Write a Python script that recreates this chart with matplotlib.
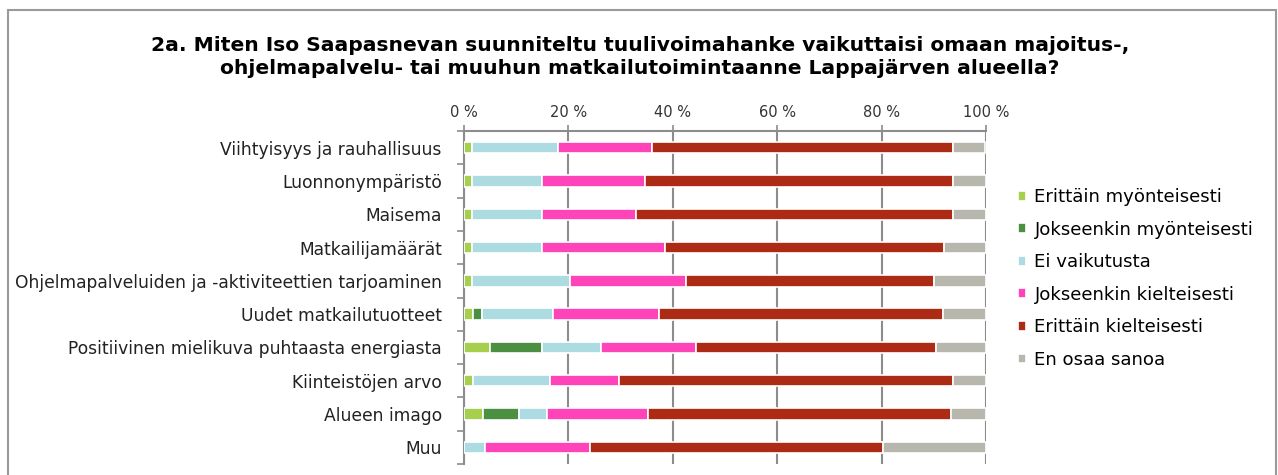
import numpy as np
import matplotlib
matplotlib.use("Agg")
import matplotlib.pyplot as plt
from matplotlib.patches import Rectangle

# data (percent)
categories = [
    "Viihtyisyys ja rauhallisuus",
    "Luonnonympäristö",
    "Maisema",
    "Matkailijamäärät",
    "Ohjelmapalveluiden ja -aktiviteettien tarjoaminen",
    "Uudet matkailutuotteet",
    "Positiivinen mielikuva puhtaasta energiasta",
    "Kiinteistöjen arvo",
    "Alueen imago",
    "Muu",
]
series_names = [
    "Erittäin myönteisesti",
    "Jokseenkin myönteisesti",
    "Ei vaikutusta",
    "Jokseenkin kielteisesti",
    "Erittäin kielteisesti",
    "En osaa sanoa",
]
erittain_myont = [1.6, 1.6, 1.6, 1.6, 1.6, 1.7, 4.9, 1.7, 3.6, 0.0]
jokseenkin_myont = [0.0, 0.0, 0.0, 0.0, 0.0, 1.8, 10.0, 0.0, 6.9, 0.0]
ei_vaikutusta = [16.4, 13.3, 13.3, 13.4, 18.8, 13.6, 11.4, 14.8, 5.4, 4.0]
jokseenkin_kielt = [18.1, 19.7, 18.0, 23.5, 22.1, 20.3, 18.1, 13.1, 19.3, 20.1]
erittain_kielt = [57.5, 59.1, 60.8, 53.5, 47.6, 54.4, 46.0, 64.1, 58.0, 56.1]
en_osaa = [6.3, 6.3, 6.3, 8.0, 9.9, 8.2, 9.6, 6.3, 6.8, 19.8]
tick_labels = ["0 %", "20 %", "40 %", "60 %", "80 %", "100 %"]

colors = ["#a5cf4c", "#4b8f40", "#acdce2", "#ff44b9", "#ad2a15", "#b8b7ad"]

W, H = 1278, 475
fig = plt.figure(figsize=(W / 100, H / 100), dpi=100)
plt.rcParams["font.family"] = ["DejaVu Sans"]

# frame around the chart (bottom edge runs off the picture)
fig.patches.append(Rectangle((8 / W, -10 / H), (1276 - 8) / W, (H - 10 + 10) / H,
                             transform=fig.transFigure, fill=False,
                             edgecolor="#9a9a9a", linewidth=1.5))

ax = fig.add_axes([464 / W, (H - 464) / H, (986 - 464) / W, (464 - 131) / H])

values = [erittain_myont, jokseenkin_myont, ei_vaikutusta, jokseenkin_kielt, erittain_kielt, en_osaa]
y = np.arange(len(categories))
left = np.zeros(len(categories))
for name, vals, c in zip(series_names, values, colors):
    vals = np.array(vals)
    ax.barh(y, vals, left=left, height=0.34, color=c, edgecolor="white", linewidth=1.2,
            label=name, zorder=3)
    left += vals

ax.set_xlim(0, 100)
ax.set_ylim(len(categories) - 0.5, -0.5)
ax.set_xticks([0, 20, 40, 60, 80, 100])
ax.set_xticklabels(tick_labels, fontsize=10.5, color="#333333")
ax.xaxis.tick_top()
ax.tick_params(axis="x", length=4, color="#8c8c8c", width=1.2, pad=4)
ax.grid(axis="x", color="#8c8c8c", linewidth=1.5, zorder=0)

ax.set_yticks(y)
ax.set_yticklabels(categories, fontsize=12.3, color="#222222")
ax.tick_params(axis="y", length=0, pad=16)
ax.set_yticks(np.arange(len(categories) + 1) - 0.5, minor=True)
ax.tick_params(axis="y", which="minor", length=5, color="#8c8c8c", width=1.2)

for s in ["right", "bottom"]:
    ax.spines[s].set_visible(False)
for s in ["left", "top"]:
    ax.spines[s].set_color("#8c8c8c")
    ax.spines[s].set_linewidth(1.5)

leg = fig.legend(loc="upper left", bbox_to_anchor=(1009 / W, (H - 179) / H), frameon=False,
                 fontsize=13.1, handlelength=0.45, handleheight=0.45, handletextpad=0.45,
                 labelspacing=0.8, borderpad=0)

fig.text(640 / W, (H - 57) / H,
         "2a. Miten Iso Saapasnevan suunniteltu tuulivoimahanke vaikuttaisi omaan majoitus-,\n"
         "ohjelmapalvelu- tai muuhun matkailutoimintaanne Lappajärven alueella?",
         ha="center", va="center", fontsize=14.6, fontweight="bold", linespacing=1.3)

fig.savefig("out.png", dpi=100)
